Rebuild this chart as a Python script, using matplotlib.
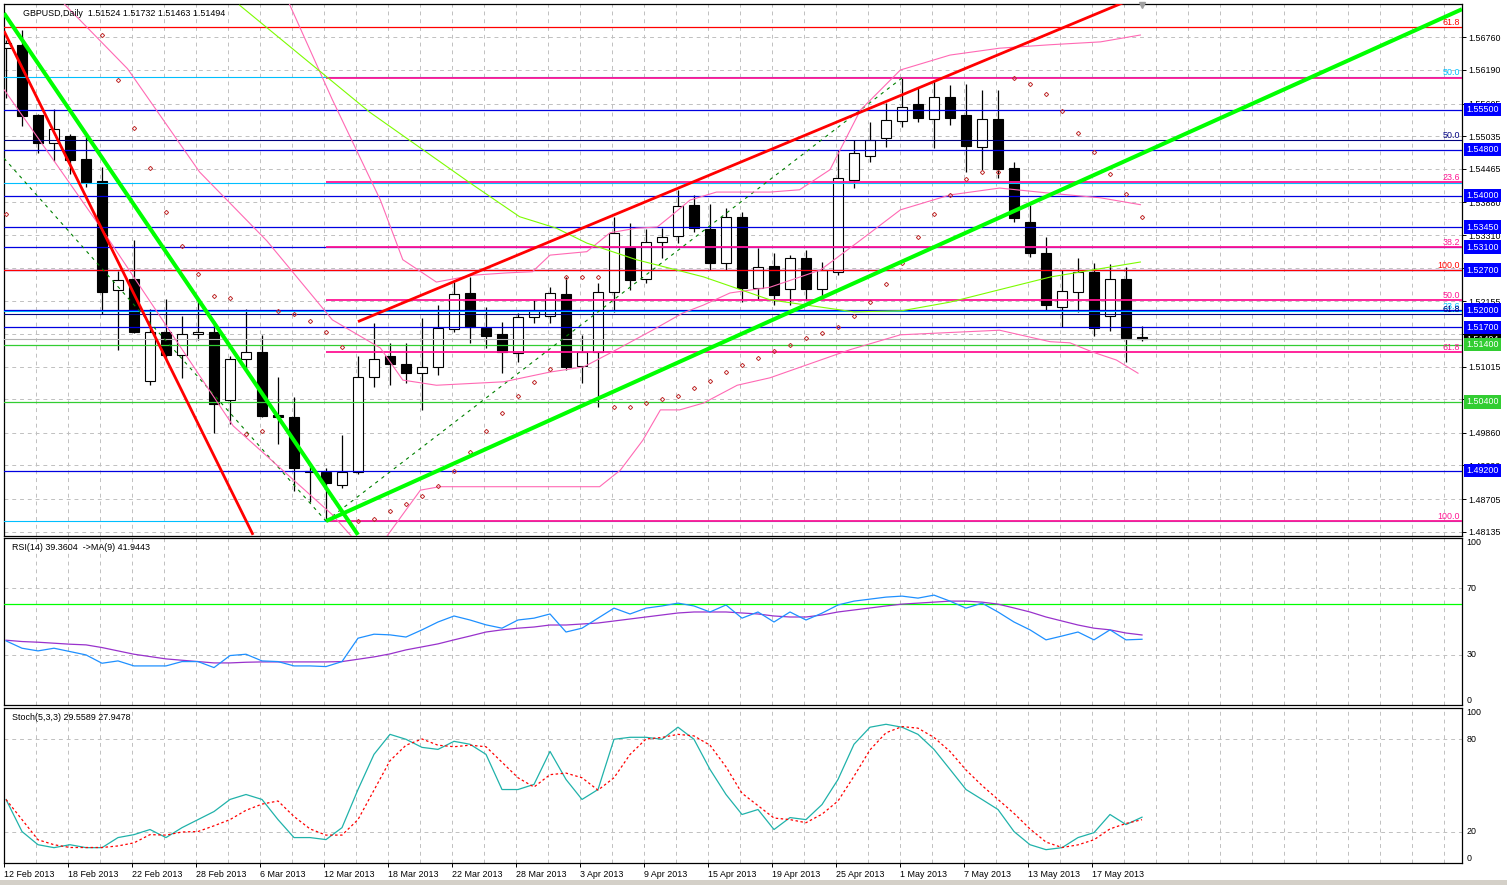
import matplotlib
matplotlib.use('Agg')
import matplotlib.pyplot as plt
import numpy as np

plt.rcParams['font.family'] = ['Liberation Sans', 'DejaVu Sans']

W, H = 1507, 885

# ---- price data (GBPUSD daily, 12 Feb .. 22 May 2013) ----
opens = [1.5657, 1.5663, 1.5540, 1.5492, 1.5504, 1.5464, 1.5425, 1.5235, 1.5254, 1.5076,
         1.5162, 1.5122, 1.5158, 1.5162, 1.5043, 1.5115, 1.5127, 1.5017, 1.5013, 1.4920,
         1.4918, 1.4895, 1.4918, 1.5083, 1.5120, 1.5106, 1.5090, 1.5101, 1.5167, 1.5230,
         1.5169, 1.5158, 1.5125, 1.5188, 1.5190, 1.5228, 1.5103, 1.5127, 1.5232, 1.5308,
         1.5254, 1.5319, 1.5329, 1.5384, 1.5342, 1.5282, 1.5362, 1.5239, 1.5277, 1.5237,
         1.5291, 1.5237, 1.5267, 1.5427, 1.5469, 1.5500, 1.5530, 1.5560, 1.5534, 1.5572,
         1.5541, 1.5485, 1.5534, 1.5448, 1.5354, 1.5300, 1.5206, 1.5232, 1.5267, 1.5189,
         1.5254, 1.51524]
highs = [1.5671, 1.5688, 1.5542, 1.5551, 1.5507, 1.5504, 1.5450, 1.5268, 1.5322, 1.5202,
         1.5220, 1.5190, 1.5220, 1.5181, 1.5120, 1.5202, 1.5157, 1.5083, 1.5048, 1.4928,
         1.4925, 1.4982, 1.5120, 1.5178, 1.5143, 1.5143, 1.5186, 1.5209, 1.5249, 1.5258,
         1.5206, 1.5179, 1.5195, 1.5217, 1.5240, 1.5258, 1.5157, 1.5247, 1.5363, 1.5352,
         1.5342, 1.5343, 1.5410, 1.5401, 1.5385, 1.5378, 1.5371, 1.5308, 1.5300, 1.5296,
         1.5305, 1.5284, 1.5479, 1.5497, 1.5528, 1.5561, 1.5605, 1.5588, 1.5602, 1.5593,
         1.5595, 1.5584, 1.5584, 1.5459, 1.5384, 1.5328, 1.5270, 1.5291, 1.5282, 1.5281,
         1.5275, 1.51732]
lows = [1.5570, 1.5522, 1.5474, 1.5460, 1.5438, 1.5415, 1.5193, 1.5130, 1.5161, 1.5069,
        1.5115, 1.5082, 1.5148, 1.4986, 1.5001, 1.5094, 1.5013, 1.4966, 1.4884, 1.4865,
        1.4832, 1.4890, 1.4914, 1.5066, 1.5069, 1.5073, 1.5026, 1.5087, 1.5162, 1.5143,
        1.5134, 1.5090, 1.5110, 1.5178, 1.5178, 1.5096, 1.5073, 1.5031, 1.5197, 1.5235,
        1.5247, 1.5291, 1.5317, 1.5336, 1.5270, 1.5270, 1.5214, 1.5218, 1.5209, 1.5209,
        1.5218, 1.5223, 1.5261, 1.5413, 1.5459, 1.5485, 1.5520, 1.5528, 1.5483, 1.5523,
        1.5441, 1.5445, 1.5431, 1.5354, 1.5293, 1.5200, 1.5171, 1.5197, 1.5155, 1.5164,
        1.5110, 1.51463]
closes = [1.5666, 1.5539, 1.5492, 1.5516, 1.5462, 1.5424, 1.5232, 1.5253, 1.5162, 1.5162,
          1.5122, 1.5158, 1.5162, 1.5036, 1.5115, 1.5127, 1.5015, 1.5013, 1.4925, 1.4917,
          1.4898, 1.4918, 1.5083, 1.5115, 1.5106, 1.5091, 1.5101, 1.5169, 1.5228, 1.5171,
          1.5155, 1.5127, 1.5188, 1.5199, 1.5230, 1.5101, 1.5127, 1.5232, 1.5335, 1.5253,
          1.5319, 1.5328, 1.5382, 1.5343, 1.5282, 1.5362, 1.5239, 1.5275, 1.5226, 1.5291,
          1.5237, 1.5270, 1.5431, 1.5474, 1.5497, 1.5532, 1.5554, 1.5535, 1.5572, 1.5535,
          1.5486, 1.5534, 1.5446, 1.5361, 1.5300, 1.5209, 1.5233, 1.5267, 1.5168, 1.5254,
          1.5152, 1.51494]

date_labels = ['12 Feb 2013', '18 Feb 2013', '22 Feb 2013', '28 Feb 2013', '6 Mar 2013',
               '12 Mar 2013', '18 Mar 2013', '22 Mar 2013', '28 Mar 2013', '3 Apr 2013',
               '9 Apr 2013', '15 Apr 2013', '19 Apr 2013', '25 Apr 2013', '1 May 2013',
               '7 May 2013', '13 May 2013', '17 May 2013']

price_ticks = [1.56760, 1.56190, 1.55605, 1.55035, 1.54465, 1.53880, 1.53310, 1.52730,
               1.52155, 1.51585, 1.51015, 1.50445, 1.49860, 1.49290, 1.48705, 1.48135]
# scale labels that sit fully under a price box
hidden_ticks = [1.52730, 1.51585, 1.50445]

# Bollinger bands (bar position, price)
bb_up_x = [16.5, 17.6, 20.4, 23.4, 24.8, 26.9, 29.2, 31.3, 32.9, 34.0, 36.3, 37.75, 39.4,
           40.7, 41.5, 42.75, 44.4, 47.75, 49.6, 51.5, 53.4, 55.9, 59.0, 62.1, 65.25, 68.4, 70.9]
bb_up = [1.5811, 1.5741, 1.5567, 1.5392, 1.5288, 1.5249, 1.5261, 1.5265, 1.5267, 1.5296,
         1.5302, 1.5335, 1.5343, 1.5345, 1.5363, 1.5392, 1.5406, 1.5406, 1.5410, 1.5445,
         1.5549, 1.5619, 1.5645, 1.5657, 1.5663, 1.5668, 1.5680]
bb_mid_x = [2.1, 3.4, 7.6, 12.1, 16.3, 20.4, 23.4, 24.8, 26.9, 31.1, 34.0, 36.1, 37.75, 40.4,
            42.3, 43.6, 45.25, 47.75, 50.9, 53.4, 55.9, 59.0, 62.1, 65.25, 68.4, 70.9]
bb_mid = [1.5793, 1.5741, 1.5621, 1.5441, 1.5321, 1.5183, 1.5134, 1.5078, 1.5069, 1.5075,
          1.5092, 1.5101, 1.5125, 1.5165, 1.5195, 1.5209, 1.5230, 1.5240, 1.5270, 1.5322,
          1.5375, 1.5401, 1.5413, 1.5404, 1.5396, 1.5384]
bb_low_x = [-0.1, 5.9, 14.2, 20.4, 21.8, 23.4, 25.9, 27.1, 37.1, 38.4, 39.8, 40.9, 42.1,
            43.6, 45.7, 47.75, 52.75, 55.9, 62.1, 65.25, 66.5, 67.9, 69.4, 70.75]
bb_low = [1.5584, 1.5345, 1.4998, 1.4843, 1.4799, 1.4790, 1.4886, 1.4892, 1.4892, 1.4921,
          1.4973, 1.5026, 1.5026, 1.5038, 1.5069, 1.5082, 1.5131, 1.5157, 1.5165, 1.5145,
          1.5143, 1.5127, 1.5113, 1.5090]

# moving average (thin light green)
ma_x = [14.6, 19.0, 22.75, 25.9, 29.0, 32.1, 34.4, 36.3, 39.4, 43.6, 47.75, 50.0, 53.0,
        56.0, 59.0, 62.0, 65.3, 70.9]
ma_y = [1.5732, 1.5631, 1.5545, 1.5483, 1.5422, 1.5363, 1.5343, 1.5317, 1.5288, 1.5258,
        1.5218, 1.5209, 1.5197, 1.5199, 1.5214, 1.5235, 1.5258, 1.5284]

# parabolic SAR
sar = [1.5368, np.nan, np.nan, np.nan, np.nan, np.nan, 1.5680, 1.5602, 1.5518, 1.5448,
       1.5371, 1.5312, 1.5263, 1.5225, 1.5221, 1.4984, 1.4989, 1.5199, 1.5193, 1.5181,
       1.5162, 1.5136, 1.4832, 1.4836, 1.4850, 1.4862, 1.4876, 1.4893, 1.4919, 1.4953,
       1.4989, 1.5021, 1.5050, 1.5075, 1.5097, 1.5258, 1.5258, 1.5258, 1.5031, 1.5031,
       1.5038, 1.5045, 1.5050, 1.5064, 1.5076, 1.5092, 1.5104, 1.5117, 1.5129, 1.5139,
       1.5151, 1.5161, 1.5171, 1.5190, 1.5214, 1.5246, 1.5283, 1.5328, 1.5367, 1.5401,
       1.5429, 1.5441, 1.5441, 1.5605, 1.5595, 1.5577, 1.5547, 1.5509, 1.5476, 1.5438,
       1.5403, 1.5363]

# trend lines (bar, price)
green_down = ([-0.125, 22.0], [1.5718, 1.4808])
red_down = ([-0.125, 15.44], [1.5687, 1.4808])
red_up = ([22.0, 74.6], [1.5180, 1.5792])
green_up = ([20.0, 91.0], [1.4832, 1.5725])
fib_diag1 = ([-0.125, 20.0], [1.5465, 1.4832])
fib_diag2 = ([20.0, 56.0], [1.4832, 1.5605])

# fibonacci levels
fib_pink = [1.5605, 1.5423, 1.5310, 1.52185, 1.5127, 1.4832]
fib_pink_lbl = ['', '23.6', '38.2', '50.0', '61.8', '100.0']
fib_cyan = [1.5606, 1.5422, 1.5198, 1.4832]
fib_cyan_lbl = ['50.0', '', '23.6', '']
fib_navy = [1.5497, 1.5193]
fib_navy_lbl = ['50.0', '61.8']
fib_red = [1.5694, 1.5270]
fib_red_lbl = ['61.8', '100.0']

# horizontal levels with boxed price labels
blue_levels = [1.5550, 1.5480, 1.5400, 1.5345, 1.5310, 1.5270, 1.5200, 1.5170, 1.4920]
green_levels = [1.5140, 1.5040]
bid = 1.51494

# RSI(14) and MA(9)
rsi = [38.4, 34.0, 32.4, 34.0, 32.0, 30.0, 25.0, 26.4, 23.4, 23.4, 23.4, 26.0, 26.0, 22.4,
       29.6, 30.4, 26.4, 26.0, 23.4, 23.4, 23.0, 26.0, 40.0, 42.4, 42.0, 40.7, 45.0, 49.7,
       53.3, 50.9, 48.0, 46.0, 50.9, 52.0, 54.5, 43.7, 46.0, 52.0, 58.0, 54.5, 58.0, 59.3,
       61.0, 59.3, 55.7, 59.9, 52.0, 55.7, 49.7, 55.7, 50.9, 55.0, 59.9, 62.2, 63.4, 64.6,
       65.2, 64.0, 65.8, 62.2, 58.0, 61.0, 55.7, 49.7, 45.0, 39.0, 41.3, 43.7, 39.0, 45.0,
       39.0, 39.36]
rsi_ma = [38.8, 38.0, 37.6, 37.0, 36.4, 36.0, 34.4, 32.4, 30.4, 29.0, 27.6, 26.8, 26.0, 25.2,
          25.2, 25.6, 25.8, 25.8, 25.8, 25.8, 25.8, 26.0, 27.4, 28.8, 30.6, 33.0, 34.8, 36.6,
          39.0, 41.3, 43.7, 45.0, 46.0, 46.7, 47.9, 47.9, 48.5, 49.1, 50.3, 51.5, 52.7, 53.9,
          55.1, 55.7, 55.7, 55.7, 55.1, 54.5, 53.3, 52.7, 52.7, 53.9, 55.7, 56.9, 58.1, 59.3,
          60.4, 61.0, 61.6, 62.2, 62.2, 61.6, 60.4, 58.1, 55.7, 52.7, 50.3, 47.9, 46.0, 45.0,
          43.1, 41.94]
rsi_level = 60.6

# Stochastic(5,3,3)
stoch_k = [41.0, 20.3, 11.8, 9.9, 11.8, 9.9, 9.9, 16.4, 18.3, 21.6, 16.4, 22.8, 28.0, 33.2,
           41.0, 44.2, 41.0, 28.0, 16.4, 16.4, 15.1, 22.8, 47.4, 70.1, 83.0, 79.8, 74.6, 73.3,
           78.5, 76.6, 70.1, 47.4, 47.4, 50.7, 72.0, 53.9, 41.0, 47.4, 79.8, 81.1, 81.1, 79.8,
           87.6, 79.8, 60.4, 44.2, 31.3, 34.5, 21.6, 29.3, 28.0, 37.7, 53.9, 76.6, 87.6, 89.5,
           87.6, 83.0, 73.3, 60.4, 47.4, 41.0, 34.5, 20.3, 11.8, 8.6, 9.9, 16.4, 19.6, 31.3,
           24.8, 29.56]
stoch_d = [41.0, 28.0, 15.0, 11.8, 10.0, 10.0, 10.0, 11.0, 13.0, 18.3, 18.0, 20.0, 20.3, 24.0,
           28.0, 34.0, 38.0, 40.0, 30.0, 22.0, 18.0, 18.0, 28.0, 47.0, 66.0, 76.0, 80.0, 76.0,
           75.0, 76.0, 75.0, 65.0, 55.0, 49.0, 57.0, 58.0, 55.0, 47.0, 55.0, 70.0, 80.0, 81.0,
           83.0, 82.0, 76.0, 62.0, 45.0, 37.0, 29.0, 28.0, 26.0, 31.5, 40.0, 56.0, 73.0, 84.0,
           88.0, 87.0, 81.0, 72.0, 60.0, 50.0, 41.0, 32.0, 22.0, 13.5, 10.0, 11.7, 15.0, 22.0,
           25.5, 27.95]


def rect(l, t, r, b):
    return [l / W, 1 - b / H, (r - l) / W, (b - t) / H]


fig = plt.figure(figsize=(W / 100, H / 100), dpi=100)
ax = fig.add_axes(rect(4, 4, 1462, 536))
ax_rsi = fig.add_axes(rect(4, 538, 1462, 705))
ax_st = fig.add_axes(rect(4, 708, 1462, 863))

XMIN, XMAX = -0.125, 91.0
FS = 6.4
grid_kw = dict(color='#c0c0c0', lw=0.7, ls=(0, (4, 4)), zorder=1)

for a in (ax, ax_rsi, ax_st):
    a.set_xlim(XMIN, XMAX)
    for s in a.spines.values():
        s.set_color('black')
        s.set_linewidth(0.9)
    for gx in np.arange(0, 92, 2) - 0.1:
        a.axvline(gx, **grid_kw)
    a.yaxis.tick_right()
    a.tick_params(axis='y', direction='out', length=3, pad=1.5, labelsize=FS, width=0.7)

# ---------- main panel ----------
ax.set_ylim(1.48060, 1.57341)
ax.set_yticks(price_ticks)
ax.set_yticklabels(['' if p in hidden_ticks else f'{p:.5f}' for p in price_ticks])
ax.set_xticks([])
for p in price_ticks:
    ax.axhline(p, **grid_kw)

x = np.arange(len(opens))
o, h, l, c = map(np.array, (opens, highs, lows, closes))
up = c >= o
ax.vlines(x, l, h, color='black', lw=0.9, zorder=2)
bot = np.minimum(o, c)
hgt = np.maximum(np.abs(c - o), 0.00003)
ax.bar(x[up], hgt[up], bottom=bot[up], width=0.62, color='white', edgecolor='black', lw=0.8, zorder=2.2)
ax.bar(x[~up], hgt[~up], bottom=bot[~up], width=0.62, color='black', edgecolor='black', lw=0.8, zorder=2.2)

# fib levels
for p in fib_cyan:
    ax.axhline(p, color='#00bfff', lw=0.8, zorder=3)
for p in fib_navy:
    ax.axhline(p, color='#000080', lw=0.8, zorder=3)
for p in fib_red:
    ax.axhline(p, color='#ff0000', lw=0.9, zorder=3.2)
ax.hlines(fib_pink, 20.0, XMAX, color='#ff1493', lw=1.3, zorder=3.3)
for p in blue_levels:
    ax.axhline(p, color='#0000e0', lw=0.9, zorder=3.1)
for p in green_levels:
    ax.axhline(p, color='#32cd32', lw=0.9, zorder=3.1)
ax.axhline(bid, color='#b4b4b4', lw=0.8, zorder=3)

ytr = ax.get_yaxis_transform()
lbl_x = (1460 - 4) / (1462 - 4)
for vals, lbls, col in ((fib_pink, fib_pink_lbl, '#ff1493'), (fib_cyan, fib_cyan_lbl, '#00bfff'),
                        (fib_navy, fib_navy_lbl, '#000080'), (fib_red, fib_red_lbl, '#ff0000')):
    for p, t in zip(vals, lbls):
        if t:
            ax.text(lbl_x, p, t, transform=ytr, ha='right', va='bottom', color=col,
                    fontsize=FS, zorder=6)

# indicators
ax.plot(bb_up_x, bb_up, color='#ff69b4', lw=0.8, zorder=3.5)
ax.plot(bb_mid_x, bb_mid, color='#ff69b4', lw=0.8, zorder=3.5)
ax.plot(bb_low_x, bb_low, color='#ff69b4', lw=0.8, zorder=3.5)
ax.plot(ma_x, ma_y, color='#7cfc00', lw=0.8, zorder=3.5)
ax.plot(x, sar, ls='none', marker='D', ms=2.2, mfc='none', mec='#c03030', mew=0.7, zorder=3.6)

# trend lines
ax.plot(*fib_diag1, color='#008000', lw=0.8, ls=(0, (3, 4)), zorder=3.4)
ax.plot(*fib_diag2, color='#008000', lw=0.8, ls=(0, (3, 4)), zorder=3.4)
ax.plot(*red_down, color='#ff0000', lw=2.0, zorder=4, solid_capstyle='butt')
ax.plot(*red_up, color='#ff0000', lw=2.0, zorder=4, solid_capstyle='butt')
ax.plot(*green_down, color='#00ff00', lw=2.9, zorder=4.1, solid_capstyle='butt')
ax.plot(*green_up, color='#00ff00', lw=2.9, zorder=4.1, solid_capstyle='butt')


# boxed price labels
def price_box(p, fc, tc='white'):
    ax.annotate(f'{p:.5f}', xy=(1, p), xycoords=ytr, xytext=(3, 0), textcoords='offset points',
                ha='left', va='center', fontsize=FS, color=tc, annotation_clip=False, zorder=10,
                bbox=dict(boxstyle='square,pad=0.25', fc=fc, ec='none'))


price_box(bid, 'black')
for p in blue_levels:
    price_box(p, '#0000ff')
for p in green_levels:
    price_box(p, '#32cd32')

ax.plot([71], [1.5732], marker='v', color='#a0a0a0', ms=5, clip_on=False, zorder=8)
ax.text(19 / 1458, 1 - 9 / 532, 'GBPUSD,Daily  1.51524 1.51732 1.51463 1.51494',
        transform=ax.transAxes, fontsize=FS, va='center', ha='left', zorder=9)

# ---------- RSI panel ----------
ax_rsi.set_ylim(0, 100)
ax_rsi.set_yticks([])
ax_rsi.set_xticks([])
for v in (70, 30):
    ax_rsi.axhline(v, **grid_kw)
ax_rsi.axhline(rsi_level, color='#00ff00', lw=0.9, zorder=3)
ax_rsi.plot(x, rsi_ma, color='#9932cc', lw=0.9, zorder=4)
ax_rsi.plot(x, rsi, color='#1e90ff', lw=0.9, zorder=4.1)
ax_rsi.text(8 / 1458, 1 - 9 / 167, 'RSI(14) 39.3604  ->MA(9) 41.9443', transform=ax_rsi.transAxes,
            fontsize=FS, va='center', ha='left')
for v, va in ((100, 'top'), (70, 'center'), (30, 'center'), (0, 'bottom')):
    ax_rsi.annotate(str(v), xy=(1, v), xycoords=ax_rsi.get_yaxis_transform(), xytext=(3, 0),
                    textcoords='offset points', ha='left', va=va, fontsize=FS, annotation_clip=False)

# ---------- Stochastic panel ----------
ax_st.set_ylim(0, 100)
ax_st.set_yticks([])
for v in (80, 20):
    ax_st.axhline(v, **grid_kw)
ax_st.plot(x, stoch_k, color='#20b2aa', lw=0.9, zorder=4)
ax_st.plot(x, stoch_d, color='#ff0000', lw=0.9, ls=(0, (2, 2)), zorder=4.1)
ax_st.text(8 / 1458, 1 - 9 / 155, 'Stoch(5,3,3) 29.5589 27.9478', transform=ax_st.transAxes,
           fontsize=FS, va='center', ha='left')
for v, va in ((100, 'top'), (80, 'center'), (20, 'center'), (0, 'bottom')):
    ax_st.annotate(str(v), xy=(1, v), xycoords=ax_st.get_yaxis_transform(), xytext=(3, 0),
                   textcoords='offset points', ha='left', va=va, fontsize=FS, annotation_clip=False)

tick_pos = np.arange(len(date_labels)) * 4 - 0.125
ax_st.set_xticks(tick_pos)
ax_st.set_xticklabels(date_labels, ha='left', fontsize=FS)
ax_st.tick_params(axis='x', direction='out', length=3, pad=2, width=0.7)

fig.patches.append(plt.Rectangle((0, 0), 1, 5 / H, transform=fig.transFigure,
                                 fc='#d4d0c8', ec='none', zorder=0))
fig.savefig('out.png', dpi=100, facecolor='white')
